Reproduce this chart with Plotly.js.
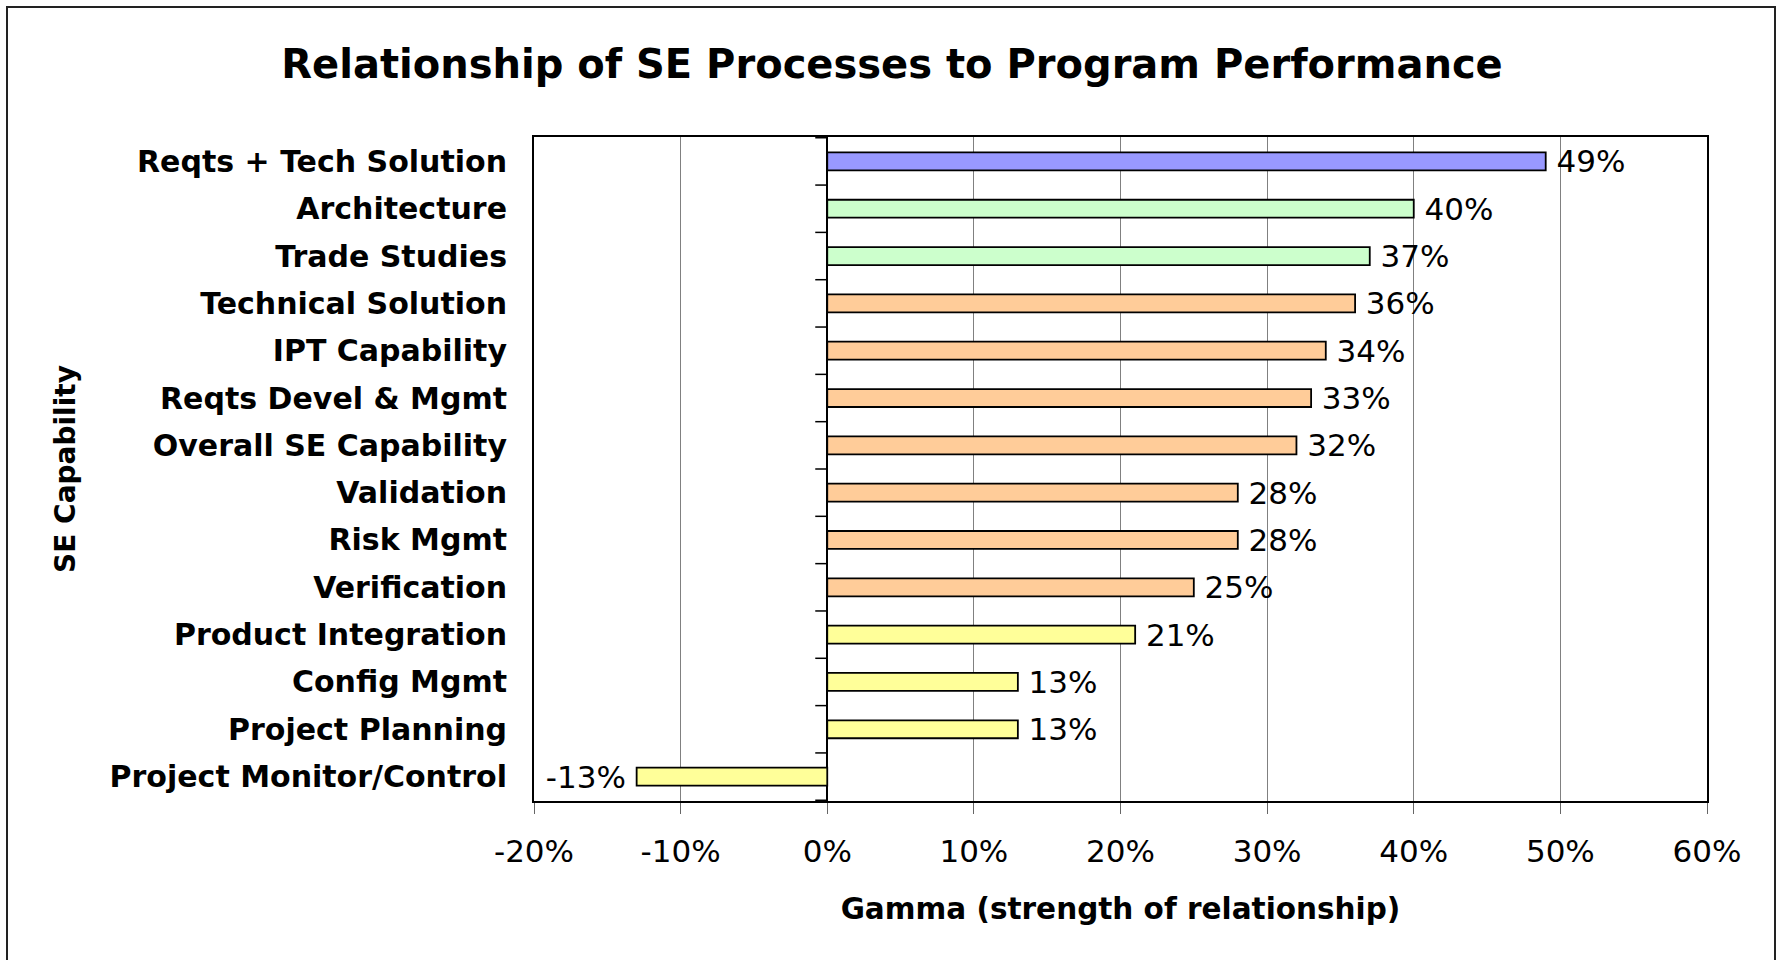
<!DOCTYPE html>
<html>
<head>
<meta charset="utf-8">
<script src="https://cdn.plot.ly/plotly-3.0.1.min.js"></script>
<style>
  html, body { margin: 0; padding: 0; background: #ffffff; }
  #chart { width: 1777px; height: 960px; }
</style>
</head>
<body>
<div id="chart"></div>
<script>
// ---- data ----
const capabilities = [
  "Reqts + Tech Solution",
  "Architecture",
  "Trade Studies",
  "Technical Solution",
  "IPT Capability",
  "Reqts Devel & Mgmt",
  "Overall SE Capability",
  "Validation",
  "Risk Mgmt",
  "Verification",
  "Product Integration",
  "Config Mgmt",
  "Project Planning",
  "Project Monitor/Control"
];
const gamma = [0.49, 0.40, 0.37, 0.36, 0.34, 0.33, 0.32, 0.28, 0.28, 0.25, 0.21, 0.13, 0.13, -0.13];
const groups = ["combined", "arch", "arch", "tech", "tech", "tech", "tech", "tech", "tech", "tech",
                "basic", "basic", "basic", "basic"];
const xTickValues = [-0.2, -0.1, 0, 0.1, 0.2, 0.3, 0.4, 0.5, 0.6];
const xTickLabels = ["-20%", "-10%", "0%", "10%", "20%", "30%", "40%", "50%", "60%"];
const titleText = "Relationship of SE Processes to Program Performance";
const xTitleText = "Gamma (strength of relationship)";
const yTitleText = "SE Capability";

// ---- styles ----
const groupColors = { combined: "#9999FF", arch: "#CCFFCC", tech: "#FFCC99", basic: "#FFFF99" };
const GAP = "\u2005";
const pct = v => Math.round(v * 100) + "%";
const labels = gamma.map(v => v >= 0 ? GAP + pct(v) : pct(v) + GAP);

const W = 1777, H = 960;
const M = { l: 534, r: 70, t: 137, b: 159 };
const pw = W - M.l - M.r, ph = H - M.t - M.b;
const px2x = p => (p - M.l) / pw;
const py2y = p => (H - M.b - p) / ph;

const fontFam = "DejaVu Sans, Liberation Sans, Arial, sans-serif";

const trace = {
  type: "bar",
  orientation: "h",
  y: capabilities,
  x: gamma,
  marker: {
    color: groups.map(g => groupColors[g]),
    line: { color: "#000000", width: 1.8 }
  },
  text: labels,
  textposition: "outside",
  textfont: { family: fontFam, size: 31, color: "#000000" },
  constraintext: "none",
  cliponaxis: false,
  hoverinfo: "skip"
};

// small category tick marks on the value-zero axis
const tickShapes = [];
for (let i = 0; i <= capabilities.length; i++) {
  tickShapes.push({
    type: "line", xref: "x", yref: "y",
    xsizemode: "pixel", xanchor: 0, x0: -12, x1: 0,
    y0: i - 0.5, y1: i - 0.5,
    line: { color: "#000000", width: 1.5 }
  });
}

const layout = {
  width: W, height: H,
  margin: M,
  paper_bgcolor: "#ffffff",
  plot_bgcolor: "#ffffff",
  showlegend: false,
  bargap: 0.62,
  title: {
    text: titleText,
    font: { family: fontFam, size: 40, color: "#000000", weight: "bold" },
    xref: "container", x: 892 / W, xanchor: "center",
    yref: "container", y: 1 - 64 / H, yanchor: "middle"
  },
  xaxis: {
    range: [-0.2, 0.6],
    tickvals: xTickValues,
    ticktext: xTickLabels,
    showgrid: true, gridcolor: "#808080", gridwidth: 1,
    zeroline: true, zerolinecolor: "#000000", zerolinewidth: 2,
    showline: true, linecolor: "#000000", linewidth: 2, mirror: true,
    ticks: "outside", ticklen: 11, tickwidth: 1, tickcolor: "#666666",
    ticklabelstandoff: 11,
    tickfont: { family: fontFam, size: 31, color: "#000000" },
    title: {
      text: xTitleText,
      font: { family: fontFam, size: 29.5, color: "#000000", weight: "bold" },
      standoff: 30
    },
    fixedrange: true
  },
  yaxis: {
    type: "category",
    autorange: "reversed",
    showgrid: false, zeroline: false,
    showline: true, linecolor: "#000000", linewidth: 2, mirror: true,
    ticks: "",
    ticklabelstandoff: 19,
    tickfont: { family: fontFam, size: 30, color: "#000000", weight: "bold" },
    title: {
      text: yTitleText,
      font: { family: fontFam, size: 28, color: "#000000", weight: "bold" },
      standoff: 26
    },
    fixedrange: true
  },
  shapes: tickShapes.concat([
    {
      type: "rect", xref: "paper", yref: "paper",
      x0: px2x(7), x1: px2x(1775), y0: py2y(966), y1: py2y(7),
      line: { color: "#222222", width: 2 }, fillcolor: "rgba(0,0,0,0)", layer: "below"
    }
  ])
};

Plotly.newPlot("chart", [trace], layout, { displayModeBar: false, staticPlot: true });
</script>
</body>
</html>
